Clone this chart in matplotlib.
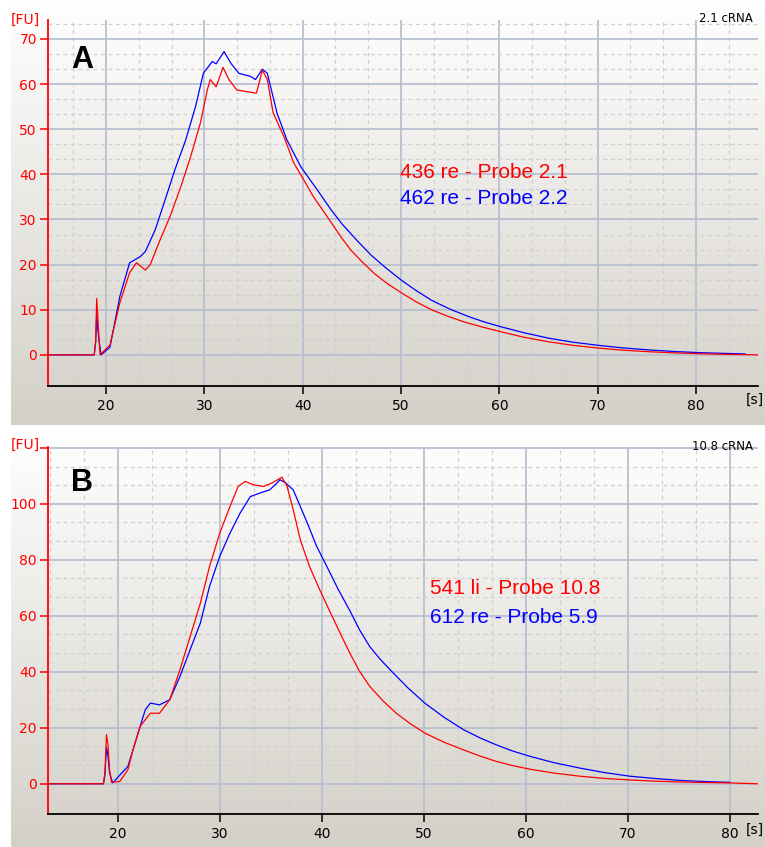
import numpy as np
import matplotlib
matplotlib.use("Agg")
import matplotlib.pyplot as plt
from matplotlib.ticker import MultipleLocator

W, H = 765, 847

# ---------------- Data ----------------
# Panel A
a_red_t = [14.1, 18.8, 18.95, 19.05, 19.15, 19.25, 19.4, 20.4, 21.4, 22.4, 23.1, 24.0, 24.5, 25.5, 26.5,
           27.6, 28.6, 29.6, 30.3, 30.6, 31.2, 31.9, 32.5, 33.3, 34.4, 35.3, 35.9, 36.4, 37.0,
           38.1, 39.1, 40.1, 41.1, 42.5, 43.9, 44.9, 46.0, 47.3, 48.6, 50.0, 51.5, 53.1, 54.7,
           56.4, 58.2, 60.2, 62.5, 65.0, 67.5, 70.1, 72.5, 75.2, 77.7, 80.3, 83.3, 86.3]
a_red_v = [0, 0, 3, 12.5, 9, 5, 0, 2.2, 11.5, 18.2, 20.4, 18.8, 20.0, 25.5, 30.6,
           37.2, 43.9, 51.4, 58.7, 61.0, 59.4, 63.7, 61.0, 58.7, 58.3, 58.0, 63.1, 61.0, 53.6,
           48.3, 42.5, 38.8, 35.0, 30.6, 26.1, 23.2, 20.7, 18.0, 15.8, 13.8, 11.8, 10.0, 8.6,
           7.3, 6.2, 5.1, 3.9, 2.9, 2.1, 1.5, 1.05, 0.7, 0.45, 0.25, 0.1, 0.0]
a_blue_t = [14.1, 18.8, 18.95, 19.05, 19.15, 19.3, 19.5, 20.4, 21.4, 22.4, 23.5, 24.0, 25.0, 26.0,
            27.0, 28.1, 29.1, 29.9, 30.8, 31.2, 32.0, 32.7, 33.5, 34.7, 35.2, 35.9, 36.4,
            37.4, 38.4, 39.8, 41.5, 42.9, 44.0, 45.5, 47.0, 48.5, 50.0, 51.5, 53.1, 55.0,
            57.1, 58.6, 60.2, 62.5, 65.0, 67.5, 70.1, 72.5, 75.2, 77.7, 80.3, 82.5, 85.0]
a_blue_v = [0, 0, 3, 9, 6, 3, 0, 1.7, 12.9, 20.4, 21.8, 22.9, 27.7, 34.3,
            41.0, 47.6, 55.0, 62.4, 65.0, 64.5, 67.2, 64.6, 62.4, 61.7, 61.0, 63.3, 62.4,
            53.5, 47.6, 41.7, 36.5, 32.1, 29.0, 25.4, 22.0, 19.2, 16.6, 14.3, 12.1, 10.1,
            8.3, 7.2, 6.2, 4.9, 3.7, 2.8, 2.1, 1.55, 1.1, 0.75, 0.5, 0.35, 0.2]

# Panel B
b_red_t = [13.2, 18.6, 18.75, 18.9, 19.05, 19.2, 19.4, 20.2, 21.0, 21.5, 22.2, 23.2, 24.1, 25.1,
           26.1, 27.1, 28.1, 29.0, 30.0, 31.0, 31.8, 32.5, 33.3, 34.3, 35.2, 36.1, 36.6,
           37.2, 37.9, 38.8, 39.8, 40.8, 41.8, 42.8, 43.7, 44.7, 46.0, 47.3, 48.7, 50.1,
           52.0, 53.9, 55.5, 57.1, 58.7, 60.4, 62.8, 65.3, 67.7, 70.2, 72.6, 75.1, 77.5,
           80.0, 82.7]
b_red_v = [0, 0, 4, 17.5, 14, 5, 0.5, 0.8, 5.0, 12.1, 20.5, 25.2, 25.2, 30.0,
           40.7, 52.6, 64.5, 77.6, 89.5, 99.0, 106.2, 108.0, 106.8, 106.2, 107.6, 109.5, 106.2,
           97.9, 87.1, 77.6, 69.3, 61.5, 53.8, 46.3, 40.2, 34.8, 29.6, 25.2, 21.4, 18.1,
           14.8, 12.1, 9.9, 8.0, 6.5, 5.2, 3.8, 2.7, 1.9, 1.35, 0.95, 0.65, 0.45,
           0.3, 0.0]
b_blue_t = [13.2, 18.6, 18.75, 18.9, 19.05, 19.2, 19.5, 21.0, 21.9, 22.7, 23.2, 24.1, 25.1, 26.1,
            27.1, 28.1, 29.0, 30.0, 31.0, 32.0, 33.0, 33.9, 34.9, 35.6, 35.9, 36.4, 37.2,
            37.9, 38.6, 39.5, 40.5, 41.6, 42.8, 43.7, 44.7, 45.7, 46.7, 48.4, 50.1, 52.0,
            53.9, 55.5, 57.1, 58.7, 60.4, 62.8, 65.3, 67.7, 70.2, 72.6, 75.1, 77.5, 80.0]
b_blue_v = [0, 0, 3, 13, 10, 4, 0.3, 6.2, 16.9, 26.4, 28.8, 28.2, 30.0, 38.3,
            47.9, 57.4, 70.5, 81.2, 89.5, 96.7, 102.6, 103.8, 105.0, 107.4, 108.6, 107.6, 105.0,
            99.0, 93.0, 84.8, 77.6, 69.5, 61.5, 55.0, 49.0, 44.6, 40.7, 34.4, 28.8, 23.7,
            19.3, 16.4, 13.9, 11.7, 9.8, 7.5, 5.6, 4.0, 2.7, 1.9, 1.2, 0.8, 0.5]

panels = [
    dict(red_t=a_red_t, red_v=a_red_v, blue_t=a_blue_t, blue_v=a_blue_v,
         xlim=(14.1, 86.3), ylim=(-6.9, 74.2), ymajor=10,
         px_left=48, px_right=758, px_top=20, px_bottom=386,
         bg_top=0, bg_bottom=425, letter="A", letter_xy=(82, 60),
         corner="2.1 cRNA", fu_y=20, s_y=400,
         labels=("436 re - Probe 2.1", "462 re - Probe 2.2"),
         label_xy=(400, 173), label_dy=25),
    dict(red_t=b_red_t, red_v=b_red_v, blue_t=b_blue_t, blue_v=b_blue_v,
         xlim=(13.17, 82.75), ylim=(-10.8, 120.3), ymajor=20,
         px_left=48, px_right=758, px_top=447, px_bottom=814,
         bg_top=432, bg_bottom=847, letter="B", letter_xy=(82, 483),
         corner="10.8 cRNA", fu_y=445, s_y=830,
         labels=("541 li - Probe 10.8", "612 re - Probe 5.9"),
         label_xy=(430, 588), label_dy=29),
]

fig = plt.figure(figsize=(W / 100, H / 100), dpi=100)
fig.patch.set_facecolor("white")

def fx(x):
    return x / W

def fy(y):
    return 1 - y / H

grad = np.linspace(0, 1, 256).reshape(-1, 1)
top_c = np.array([1.0, 1.0, 1.0])
bot_c = np.array([212, 208, 200]) / 255.0
grad_img = (top_c[None, None, :] * (1 - grad[:, :, None]) + bot_c[None, None, :] * grad[:, :, None])

for p in panels:
    bg = fig.add_axes([fx(11), fy(p["bg_bottom"]), fx(W - 11), (p["bg_bottom"] - p["bg_top"]) / H])
    bg.imshow(grad_img, aspect="auto", extent=(0, 1, 0, 1))
    bg.set_axis_off()
    bg.set_zorder(0)

    ax = fig.add_axes([fx(p["px_left"]), fy(p["px_bottom"]),
                       (p["px_right"] - p["px_left"]) / W, (p["px_bottom"] - p["px_top"]) / H])
    ax.set_zorder(1)
    ax.patch.set_alpha(0)

    ax.xaxis.set_major_locator(MultipleLocator(10))
    ax.xaxis.set_minor_locator(MultipleLocator(10 / 3))
    ax.yaxis.set_major_locator(MultipleLocator(p["ymajor"]))
    ax.yaxis.set_minor_locator(MultipleLocator(p["ymajor"] / 3))
    ax.set_xlim(*p["xlim"])
    ax.set_ylim(*p["ylim"])

    ax.grid(which="major", color="#b8c0cf", lw=1.3, ls="-")
    ax.grid(which="minor", color="#cfcfcf", lw=0.9, ls=(0, (3, 3)))
    ax.set_axisbelow(True)

    for s in ("top", "right"):
        ax.spines[s].set_visible(False)
    ax.spines["left"].set_color("red")
    ax.spines["left"].set_linewidth(1.3)
    ax.spines["bottom"].set_color("black")
    ax.spines["bottom"].set_linewidth(1.3)

    ax.tick_params(axis="y", which="major", colors="red", labelcolor="red", length=6, width=1.1,
                   labelsize=10, pad=2)
    ax.tick_params(axis="x", which="major", colors="black", length=6, width=1.1, labelsize=10, pad=3)
    ax.tick_params(which="minor", length=0)

    # hide labels for major ticks outside the labelled range (grid lines stay)
    ax.yaxis.set_major_formatter(plt.FuncFormatter(
        lambda v, pos, top=p["ylim"][1]: "" if (v < 0 or v > top - 2) else f"{v:g}"))
    ax.xaxis.set_major_formatter(plt.FuncFormatter(
        lambda v, pos: f"{v:g}" if 20 <= v <= 80 else ""))
    for lab in ax.get_yticklabels() + ax.get_xticklabels():
        lab.set_fontfamily("DejaVu Sans")

    ax.plot(p["blue_t"], p["blue_v"], color="#0000ff", lw=0.9, zorder=3)
    ax.plot(p["red_t"], p["red_v"], color="#ff0000", lw=0.9, zorder=4)

    fig.text(fx(p["letter_xy"][0]), fy(p["letter_xy"][1]), p["letter"], fontsize=22,
             fontweight="bold", family="Liberation Sans", ha="center", va="center", zorder=5)
    fig.text(fx(p["label_xy"][0]), fy(p["label_xy"][1]), p["labels"][0], color="#ff0000",
             fontsize=15, family="Liberation Sans", ha="left", va="center", zorder=5)
    fig.text(fx(p["label_xy"][0]), fy(p["label_xy"][1] + p["label_dy"]), p["labels"][1], color="#0000ff",
             fontsize=15, family="Liberation Sans", ha="left", va="center", zorder=5)
    fig.text(fx(25), fy(p["fu_y"]), "[FU]", color="red", fontsize=10, family="DejaVu Sans",
             ha="center", va="center", zorder=5)
    fig.text(fx(753), fy(p["px_top"] - 1), p["corner"], color="black", fontsize=8.5,
             family="DejaVu Sans", ha="right", va="center", zorder=5)
    fig.text(fx(764), fy(p["s_y"]), "[s]", color="black", fontsize=10, family="DejaVu Sans",
             ha="right", va="center", zorder=5)

fig.savefig("out.png", dpi=100)
